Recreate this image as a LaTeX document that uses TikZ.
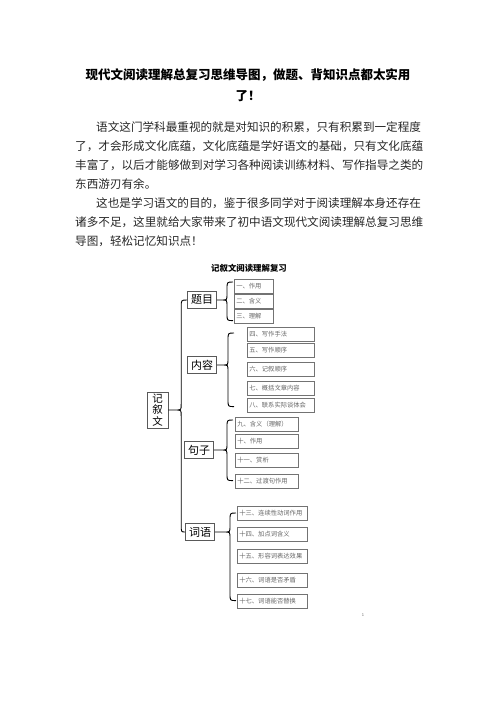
\documentclass[tikz,border=0pt]{standalone}
\usepackage{fontspec}
\setmainfont{Noto Sans CJK SC}
\usetikzlibrary{calc}

% curly brace from a parent node to the ends of its item column
\newcommand{\mapbrace}[3]{%
  \draw[link] let \p1=(#1.east), \p2=#2, \p3=#3 in
    (#1.east) -- (\x2-11pt,\y1)
    .. controls (\x2-6pt,\y1) .. (\x2-6pt,\y1+6pt) -- (\x2-6pt,\y2-7pt)
    .. controls (\x2-6pt,\y2) .. (\p2)
    (\x2-11pt,\y1) .. controls (\x2-6pt,\y1) .. (\x2-6pt,\y1-6pt) -- (\x2-6pt,\y3+7pt)
    .. controls (\x2-6pt,\y3) .. (\p3);}

\begin{document}
\begin{tikzpicture}[
x=1pt, y=1pt,
headline/.style={font=\fontsize{12.5}{14}\selectfont\bfseries, text=black},
textline/.style={anchor=west, inner sep=0pt, font=\fontsize{11.6}{13}\selectfont, text=black!85},
mainbox/.style={draw=black!65, line width=0.6pt, font=\fontsize{11}{12}\selectfont, inner sep=2pt, minimum height=17pt, minimum width=29pt},
itembox/.style={draw=black!55, line width=0.6pt, anchor=north west, inner sep=2pt, align=left, font=\fontsize{6.3}{7}\selectfont, text=black!60, minimum height=14pt},
link/.style={line width=0.9pt, black}
]
\useasboundingbox (0,0) rectangle (496,-702);

% heading and text
\node[headline] (title) at (248,-75) {现代文阅读理解总复习思维导图，做题、背知识点都太实用};
\node[headline] (titleb) at (248,-96) {了！};
\node[textline] (pa1) at (96,-127) {语文这门学科最重视的就是对知识的积累，只有积累到一定程度};
\node[textline] (pa2) at (75,-146) {了，才会形成文化底蕴，文化底蕴是学好语文的基础，只有文化底蕴};
\node[textline] (pa3) at (75,-165) {丰富了，以后才能够做到对学习各种阅读训练材料、写作指导之类的};
\node[textline] (pa4) at (75,-184) {东西游刃有余。};
\node[textline] (pb1) at (96,-203) {这也是学习语文的目的，鉴于很多同学对于阅读理解本身还存在};
\node[textline] (pb2) at (75,-222) {诸多不足，这里就给大家带来了初中语文现代文阅读理解总复习思维};
\node[textline] (pb3) at (75,-241) {导图，轻松记忆知识点！};

% mind map
\node[font=\fontsize{8.4}{9}\selectfont\bfseries] (maptitle) at (249,-268) {记叙文阅读理解复习};
\node[mainbox, align=center, minimum width=21pt, font=\fontsize{10.5}{11.5}\selectfont] (root) at (157.5,-410) {记\\叙\\文};
\node[mainbox] (timu) at (202,-300) {题目};
\node[mainbox] (neirong) at (202,-365) {内容};
\node[mainbox] (juzi) at (199,-450) {句子};
\node[mainbox] (ciyu) at (200,-532) {词语};

\node[itembox, text width=35pt] (t1) at (234,-279) {一、作用};
\node[itembox, text width=35pt] (t2) at (234,-294) {二、含义};
\node[itembox, text width=35pt] (t3) at (234,-309) {三、理解};

\node[itembox, text width=63pt] (n1) at (247,-327) {四、写作手法};
\node[itembox, text width=63pt] (n2) at (247,-343) {五、写作顺序};
\node[itembox, text width=63pt] (n3) at (247,-362) {六、记叙顺序};
\node[itembox, text width=63pt] (n4) at (247,-381) {七、概括文章内容};
\node[itembox, text width=63pt] (n5) at (247,-398) {八、联系实际谈体会};

\node[itembox, text width=59pt] (j1) at (235,-417) {九、含义（理解）};
\node[itembox, text width=59pt] (j2) at (235,-434) {十、作用};
\node[itembox, text width=59pt] (j3) at (235,-453) {十一、赏析};
\node[itembox, text width=59pt] (j4) at (235,-474) {十二、过渡句作用};

\node[itembox, text width=66pt] (c1) at (237,-506) {十三、连续性动词作用};
\node[itembox, text width=66pt] (c2) at (237,-527) {十四、加点词含义};
\node[itembox, text width=66pt] (c3) at (237,-549) {十五、形容词表达效果};
\node[itembox, text width=66pt] (c4) at (237,-573) {十六、词语是否矛盾};
\node[itembox, text width=66pt] (c5) at (237,-594) {十七、词语能否替换};

\node[font=\fontsize{4}{4}\selectfont, text=black!60] (pageno) at (363,-615) {1};

\mapbrace{root}{(timu.west)}{(ciyu.west)}
\mapbrace{timu}{($(t1.north west)+(-1,-3)$)}{($(t3.south west)+(-1,3)$)}
\mapbrace{neirong}{($(n1.north west)+(-13,-6)$)}{($(n5.south west)+(-13,6)$)}
\mapbrace{juzi}{($(j1.north west)+(-2,-3)$)}{($(j4.south west)+(-2,8)$)}
\mapbrace{ciyu}{($(c1.north west)+(-1,-7)$)}{($(c5.south west)+(-1,8)$)}
\end{tikzpicture}
\end{document}
